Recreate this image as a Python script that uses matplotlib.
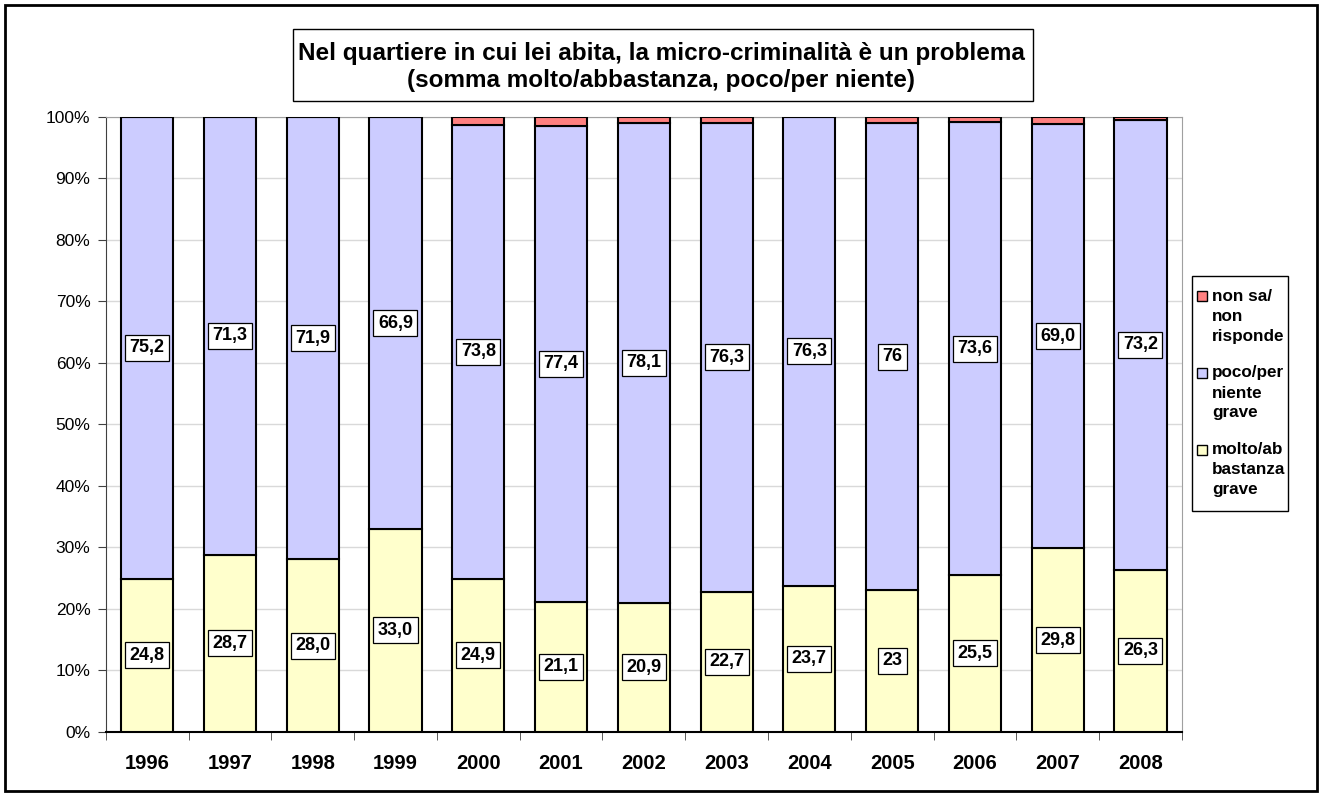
import numpy as np
import matplotlib
matplotlib.use("Agg")
import matplotlib.pyplot as plt
from matplotlib.patches import Rectangle
from matplotlib.ticker import FixedLocator, PercentFormatter

plt.rcParams['font.family'] = ['Liberation Sans', 'DejaVu Sans']

years = ['1996', '1997', '1998', '1999', '2000', '2001', '2002',
         '2003', '2004', '2005', '2006', '2007', '2008']
molto = [24.8, 28.7, 28.0, 33.0, 24.9, 21.1, 20.9, 22.7, 23.7, 23.0, 25.5, 29.8, 26.3]
poco = [75.2, 71.3, 71.9, 66.9, 73.8, 77.4, 78.1, 76.3, 76.3, 76.0, 73.6, 69.0, 73.2]
nonsa = [0.0, 0.0, 0.1, 0.1, 1.3, 1.5, 1.0, 1.0, 0.0, 1.0, 0.9, 1.2, 0.5]
molto_lab = ['24,8', '28,7', '28,0', '33,0', '24,9', '21,1', '20,9',
             '22,7', '23,7', '23', '25,5', '29,8', '26,3']
poco_lab = ['75,2', '71,3', '71,9', '66,9', '73,8', '77,4', '78,1',
            '76,3', '76,3', '76', '73,6', '69,0', '73,2']
series_names = ['non sa/\nnon\nrisponde', 'poco/per\nniente\ngrave', 'molto/ab\nbastanza\ngrave']

c_molto = '#FFFFCC'
c_poco = '#CCCCFF'
c_nonsa = '#FF8080'

W, H = 1322, 796
fig = plt.figure(figsize=(W / 100, H / 100), dpi=100)
ax = fig.add_axes([0.080, 0.0808, 0.814, 0.7726])

def px(x, y):
    # pixel position (from top-left) -> figure fraction
    return x / W, 1 - y / H

x = np.arange(len(years))
w = 0.63
m = np.array(molto)
p = np.array(poco)
n = np.array(nonsa)
ax.bar(x, m, w, color=c_molto, edgecolor='black', lw=1.5, zorder=3)
ax.bar(x, p, w, bottom=m, color=c_poco, edgecolor='black', lw=1.5, zorder=3)
ax.bar(x, n, w, bottom=m + p, color=c_nonsa, edgecolor='black', lw=1.5, zorder=3)

box = dict(boxstyle='square,pad=0.25', fc='white', ec='black', lw=0.9)
for i in range(len(years)):
    ax.text(x[i], m[i] / 2, molto_lab[i], ha='center', va='center',
            fontsize=13, fontweight='bold', bbox=box, zorder=5)
    ax.text(x[i], m[i] + p[i] / 2, poco_lab[i], ha='center', va='center',
            fontsize=13, fontweight='bold', bbox=box, zorder=5)

ax.set_xlim(-0.5, len(years) - 0.5)
ax.set_ylim(0, 100)
ax.set_yticks(np.arange(0, 101, 10))
ax.yaxis.set_major_formatter(PercentFormatter(decimals=0))
ax.yaxis.grid(True, color='#D9D9D9', lw=1, zorder=0)
ax.set_xticks(x)
ax.set_xticklabels(years, fontsize=14.5, fontweight='bold')
ax.tick_params(axis='x', length=0, pad=16)
ax.xaxis.set_minor_locator(FixedLocator(np.arange(-0.5, len(years), 1)))
ax.tick_params(axis='x', which='minor', length=6, color='#404040')
ax.tick_params(axis='y', labelsize=12.5, length=6, color='#404040', pad=5)
for s in ['top', 'right']:
    ax.spines[s].set_color('#A0A0A0')
ax.spines['left'].set_color('#404040')
ax.spines['bottom'].set_color('black')
ax.spines['bottom'].set_linewidth(1.5)

# legend drawn by hand, Excel style: marker next to first line of each entry
fig.patches.append(Rectangle(px(1192, 511), 96 / W, 235 / H, transform=fig.transFigure,
                             fc='white', ec='black', lw=1))
colors = [c_nonsa, c_poco, c_molto]
for k, (name, col) in enumerate(zip(series_names, colors)):
    y0 = 296 + k * 77
    fig.patches.append(Rectangle(px(1197, y0 + 5), 10 / W, 10 / H, transform=fig.transFigure,
                                 fc=col, ec='black', lw=1))
    for j, line in enumerate(name.split('\n')):
        fig.text(*px(1212, y0 + j * 20), line, ha='left', va='center',
                 fontsize=12.3, fontweight='bold')

fig.text(*px(661, 67), 'Nel quartiere in cui lei abita, la micro-criminalità è un problema\n'
         '(somma molto/abbastanza, poco/per niente)',
         ha='center', va='center', fontsize=17.5, fontweight='bold', linespacing=1.2)
fig.patches.append(Rectangle(px(293, 101), 740 / W, 72 / H,
                             transform=fig.transFigure, fill=False, ec='black', lw=1))
fig.patches.append(Rectangle(px(5, 791), 1312 / W, 786 / H,
                             transform=fig.transFigure, fill=False, ec='black', lw=2))

fig.savefig('out.png', dpi=100)
